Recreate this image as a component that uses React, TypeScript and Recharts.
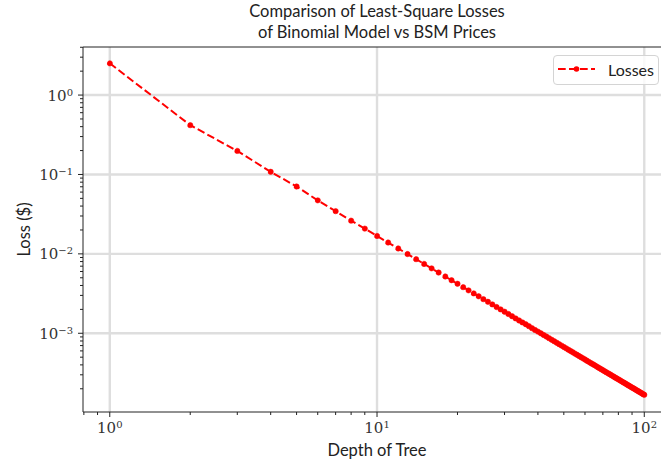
import React from "react";
import { Legend, Line, LineChart, ReferenceLine, XAxis, YAxis } from "recharts";

// depth of the binomial tree (1..100)
const depths = [
  1, 2, 3, 4, 5, 6, 7, 8, 9, 10, 11, 12, 13, 14, 15, 16, 17, 18, 19, 20,
  21, 22, 23, 24, 25, 26, 27, 28, 29, 30, 31, 32, 33, 34, 35, 36, 37, 38, 39, 40,
  41, 42, 43, 44, 45, 46, 47, 48, 49, 50, 51, 52, 53, 54, 55, 56, 57, 58, 59, 60,
  61, 62, 63, 64, 65, 66, 67, 68, 69, 70, 71, 72, 73, 74, 75, 76, 77, 78, 79, 80,
  81, 82, 83, 84, 85, 86, 87, 88, 89, 90, 91, 92, 93, 94, 95, 96, 97, 98, 99, 100,
];

// least-square loss vs BSM prices
const losses = [
  2.51, 0.418, 0.198, 0.108, 0.0705, 0.0472, 0.0345, 0.0262, 0.0208, 0.0168,
  0.0139, 0.0117, 0.00995, 0.00858, 0.00747, 0.00657, 0.00582, 0.00519, 0.00466, 0.0042,
  0.00381, 0.00347, 0.00318, 0.00292, 0.00269, 0.00249, 0.00231, 0.00214, 0.002, 0.00187,
  0.00175, 0.00164, 0.00154, 0.00145, 0.00137, 0.0013, 0.00123, 0.00116, 0.0011, 0.00105,
  0.000999, 0.000952, 0.000909, 0.000868, 0.00083, 0.000794, 0.000761, 0.000729, 0.0007, 0.000672,
  0.000646, 0.000621, 0.000598, 0.000576, 0.000555, 0.000536, 0.000517, 0.000499, 0.000483, 0.000467,
  0.000451, 0.000437, 0.000423, 0.00041, 0.000398, 0.000386, 0.000374, 0.000363, 0.000353, 0.000343,
  0.000333, 0.000324, 0.000315, 0.000307, 0.000299, 0.000291, 0.000283, 0.000276, 0.000269, 0.000263,
  0.000256, 0.00025, 0.000244, 0.000238, 0.000233, 0.000227, 0.000222, 0.000217, 0.000212, 0.000207,
  0.000203, 0.000199, 0.000194, 0.00019, 0.000186, 0.000182, 0.000179, 0.000175, 0.000171, 0.000168,
];

const xMajor = [1, 10, 100];
const xMinor = [0.8, 0.9, 2, 3, 4, 5, 6, 7, 8, 9, 20, 30, 40, 50, 60, 70, 80, 90];
const yMajor = [0.001, 0.01, 0.1, 1];
const yMinor = [
  0.0002, 0.0003, 0.0004, 0.0005, 0.0006, 0.0007, 0.0008, 0.0009,
  0.002, 0.003, 0.004, 0.005, 0.006, 0.007, 0.008, 0.009,
  0.02, 0.03, 0.04, 0.05, 0.06, 0.07, 0.08, 0.09,
  0.2, 0.3, 0.4, 0.5, 0.6, 0.7, 0.8, 0.9, 2, 3, 4,
];

const data = depths.map((d, i) => ({ depth: d, loss: losses[i] }));

const X_DOMAIN = [0.794, 125.9];
const Y_DOMAIN = [1.02e-4, 4.03];

const SANS = "Lato, 'DejaVu Sans', sans-serif";
const SERIF = "'DejaVu Serif', 'Liberation Serif', serif";
const INK = "#222";
const GRID = "#dedede";

const exponent = (v: number) => {
  const e = Math.round(Math.log10(v));
  return e < 0 ? "\u2212" + Math.abs(e) : String(e);
};

const isMajor = (v: number, majors: number[]) =>
  majors.some((m) => Math.abs(m - v) / m < 1e-6);

const XTick = (props: any) => {
  const { x, y, payload } = props;
  const major = isMajor(payload.value, xMajor);
  return (
    <g>
      <line x1={x} x2={x} y1={y} y2={y + (major ? 5 : 3)} stroke={INK} strokeWidth={1} />
      {major && (
        <text x={x} y={y + 21} textAnchor="middle" fontFamily={SERIF} fontSize={15} fill="#333">
          10
          <tspan dy={-5} fontSize={10}>
            {exponent(payload.value)}
          </tspan>
        </text>
      )}
    </g>
  );
};

const YTick = (props: any) => {
  const { x, y, payload } = props;
  const major = isMajor(payload.value, yMajor);
  return (
    <g>
      <line x1={x} x2={x - (major ? 5 : 3)} y1={y} y2={y} stroke={INK} strokeWidth={1} />
      {major && (
        <text x={x - 10} y={y + 5.5} textAnchor="end" fontFamily={SERIF} fontSize={15} fill="#333">
          10
          <tspan dy={-5} fontSize={10}>
            {exponent(payload.value)}
          </tspan>
        </text>
      )}
    </g>
  );
};

const LegendBox = () => (
  <div
    style={{
      width: 106,
      height: 30,
      border: "1px solid #d4d4d4",
      borderRadius: 4,
      background: "rgba(255,255,255,0.8)",
      position: "relative",
      boxSizing: "border-box",
    }}
  >
    <svg width={44} height={30} style={{ position: "absolute", left: 0, top: 0 }}>
      <line x1={4} x2={41} y1={13} y2={13} stroke="red" strokeWidth={2} strokeDasharray="7.7 3.3" />
      <circle cx={22.5} cy={13} r={2.8} fill="red" />
    </svg>
    <span
      style={{
        position: "absolute",
        left: 54,
        top: 4,
        fontFamily: SANS,
        fontSize: 16,
        color: "#222",
        lineHeight: "20px",
      }}
    >
      Losses
    </span>
  </div>
);

export default function App() {
  return (
    <div
      style={{
        position: "absolute",
        left: 0,
        top: 0,
        width: 661,
        height: 461,
        overflow: "hidden",
        background: "#fff",
      }}
    >
      <svg width={661} height={461} style={{ position: "absolute", left: 0, top: 0 }}>
        <text x={377} y={17} textAnchor="middle" fontFamily={SANS} fontSize={16.5} fill="#222">
          Comparison of Least-Square Losses
        </text>
        <text x={377} y={38} textAnchor="middle" fontFamily={SANS} fontSize={16.5} fill="#222">
          of Binomial Model vs BSM Prices
        </text>
      </svg>
      <div style={{ position: "absolute", left: 0, top: 0 }}>
        <LineChart
          width={680}
          height={461}
          data={data}
          margin={{ top: 47, right: 9, bottom: 19, left: 23 }}
        >
          {xMajor.map((v) => (
            <ReferenceLine key={"gx" + v} x={v} stroke={GRID} strokeWidth={2.4} />
          ))}
          {yMajor.map((v) => (
            <ReferenceLine key={"gy" + v} y={v} stroke={GRID} strokeWidth={2.4} />
          ))}
          <ReferenceLine y={Y_DOMAIN[1]} stroke={INK} strokeWidth={1} />
          <XAxis
            dataKey="depth"
            type="number"
            scale="log"
            domain={X_DOMAIN}
            allowDataOverflow
            ticks={[...xMinor, ...xMajor].sort((a, b) => a - b)}
            interval={0}
            tickSize={0}
            tickMargin={0}
            tick={<XTick />}
            axisLine={{ stroke: INK, strokeWidth: 1 }}
            height={30}
            label={{
              value: "Depth of Tree",
              position: "insideBottom",
              offset: -14,
              fontFamily: SANS,
              fontSize: 16.5,
              fill: "#222",
            }}
          />
          <YAxis
            dataKey="loss"
            type="number"
            scale="log"
            domain={Y_DOMAIN}
            allowDataOverflow
            ticks={[...yMinor, ...yMajor].sort((a, b) => a - b)}
            interval={0}
            tickSize={0}
            tickMargin={0}
            tick={<YTick />}
            axisLine={{ stroke: INK, strokeWidth: 1 }}
            width={60}
            label={{
              value: "Loss ($)",
              angle: -90,
              position: "insideLeft",
              offset: 1,
              style: { textAnchor: "middle" },
              fontFamily: SANS,
              fontSize: 16.5,
              fill: "#222",
            }}
          />
          <Legend
            layout="vertical"
            align="center"
            verticalAlign="middle"
            wrapperStyle={{ top: 55, left: 553, width: 106 }}
            content={<LegendBox />}
          />
          <Line
            dataKey="loss"
            stroke="red"
            strokeWidth={2}
            strokeDasharray="7.7 3.3"
            dot={{ r: 2.7, fill: "red", stroke: "red", strokeWidth: 0.5 }}
            isAnimationActive={false}
          />
        </LineChart>
      </div>
    </div>
  );
}
